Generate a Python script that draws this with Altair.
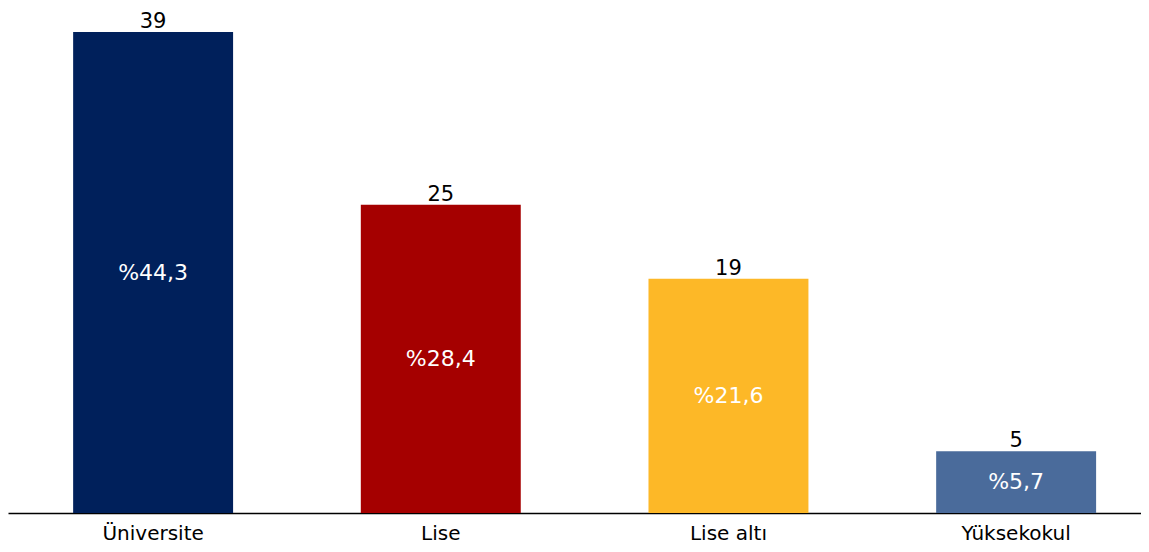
import altair as alt
import pandas as pd

categories = ["Üniversite", "Lise", "Lise altı", "Yüksekokul"]
counts = [39, 25, 19, 5]
shares = ["%44,3", "%28,4", "%21,6", "%5,7"]
colors = ["#00205B", "#A50000", "#FDB827", "#4A6B9B"]

df = pd.DataFrame({"cat": categories, "n": counts, "pct": shares, "color": colors})
df["mid"] = df["n"] / 2

FONT = "DejaVu Sans"

xscale = alt.Scale(paddingInner=0.444, paddingOuter=0.19125, align=0.592)
x = alt.X("cat:N", sort=categories, title=None, scale=xscale,
          axis=alt.Axis(labelAngle=0, labelFont=FONT, labelFontSize=20, labelColor="#000000",
                        labelBaseline="top", domainColor="#000000", domainWidth=1.5,
                        ticks=False, labelPadding=10))
yscale = alt.Scale(domain=[0, 40.946], nice=False)

base = alt.Chart(df)
bars = base.mark_bar().encode(
    x=x,
    y=alt.Y("n:Q", scale=yscale, axis=None),
    color=alt.Color("color:N", scale=None),
)
top = base.mark_text(baseline="alphabetic", dy=-4, font=FONT, fontSize=21, color="#000000").encode(
    x=alt.X("cat:N", sort=categories, scale=xscale), y=alt.Y("n:Q", scale=yscale), text="n:Q")
mid = base.mark_text(baseline="middle", font=FONT, fontSize=22, color="#FFFFFF").encode(
    x=alt.X("cat:N", sort=categories, scale=xscale), y=alt.Y("mid:Q", scale=yscale), text="pct:N")

chart = alt.layer(bars, top, mid).properties(
    width=1133, height=505,
    autosize=alt.AutoSizeParams(type="none"),
    padding={"left": 0, "right": 0, "top": 0, "bottom": 31},
    background="#FFFFFF",
).configure_view(stroke=None)

chart.save("out.html", embed_options={"renderer": "svg", "actions": False})
